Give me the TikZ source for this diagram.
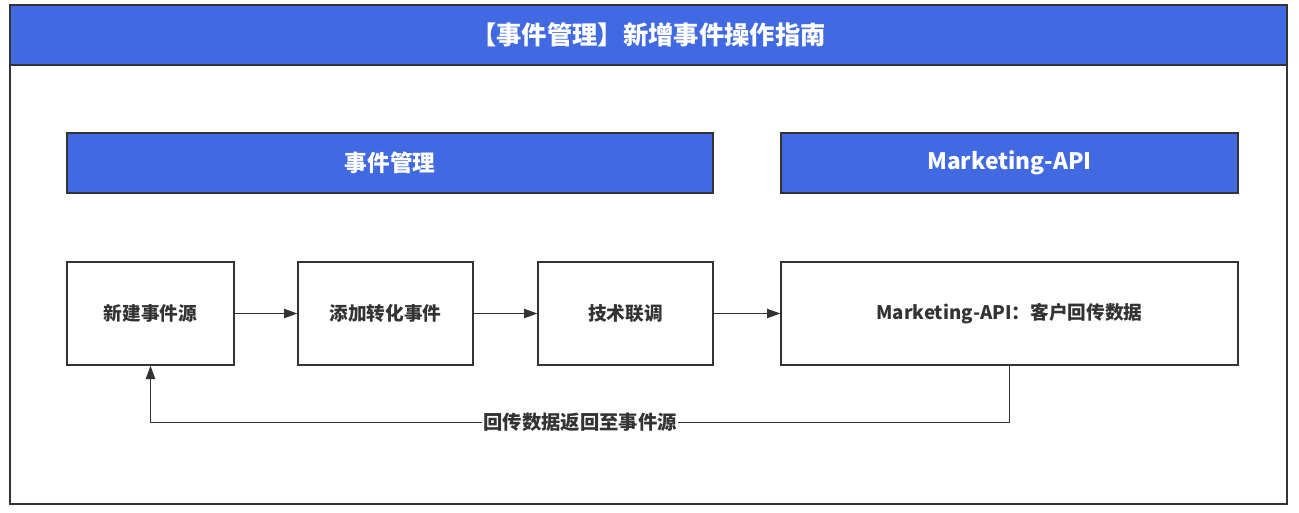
\documentclass[tikz,border=0pt]{standalone}
\usepackage{fontspec}
\setmainfont{Noto Sans CJK SC}
\usetikzlibrary{arrows.meta}
\definecolor{barblue}{HTML}{4169E1}
\definecolor{linegray}{HTML}{333333}
\begin{document}
\begin{tikzpicture}[x=0.75pt,y=-0.75pt,
  bar/.style={draw=linegray,fill=barblue,line width=1pt,text=white,font=\bfseries\fontsize{17}{20}\selectfont,minimum height=45pt,inner sep=0pt},
  stepbox/.style={draw=linegray,line width=1pt,text=linegray,font=\bfseries\fontsize{14}{17}\selectfont,minimum height=77.25pt,inner sep=0pt},
  arr/.style={draw=linegray,line width=1pt,-{Triangle[length=10pt,width=7pt]}}]
\useasboundingbox (0,0) rectangle (1299,512);
\draw [linegray,line width=1pt] (10,5) rectangle (1287,504);
\node (title) at (648.5,35) [bar,minimum width=957.75pt,font=\bfseries\fontsize{19}{22}\selectfont] {【事件管理】新增事件操作指南};
\node (evmgr) at (390,163) [bar,minimum width=484.5pt] {事件管理};
\node (mapi) at (1009.5,163) [bar,minimum width=342.75pt] {Marketing-API};
\node (src) at (150.5,313.5) [stepbox,minimum width=125.25pt] {新建事件源};
\node (conv) at (385.5,313.5) [stepbox,minimum width=131.25pt] {添加转化事件};
\node (tune) at (625.5,313.5) [stepbox,minimum width=131.25pt] {技术联调};
\node (back) at (1009.5,313.5) [stepbox,minimum width=342.75pt] {Marketing-API：客户回传数据};
\draw [arr] (src) -- (conv);
\draw [arr] (conv) -- (tune);
\draw [arr] (tune) -- (back);
\draw [arr] (back.south) -- ++(0,57) -| node [pos=0.25,fill=white,inner sep=1pt,text=linegray,font=\bfseries\fontsize{14.5}{17}\selectfont] {回传数据返回至事件源} (src.south);
\end{tikzpicture}
\end{document}
